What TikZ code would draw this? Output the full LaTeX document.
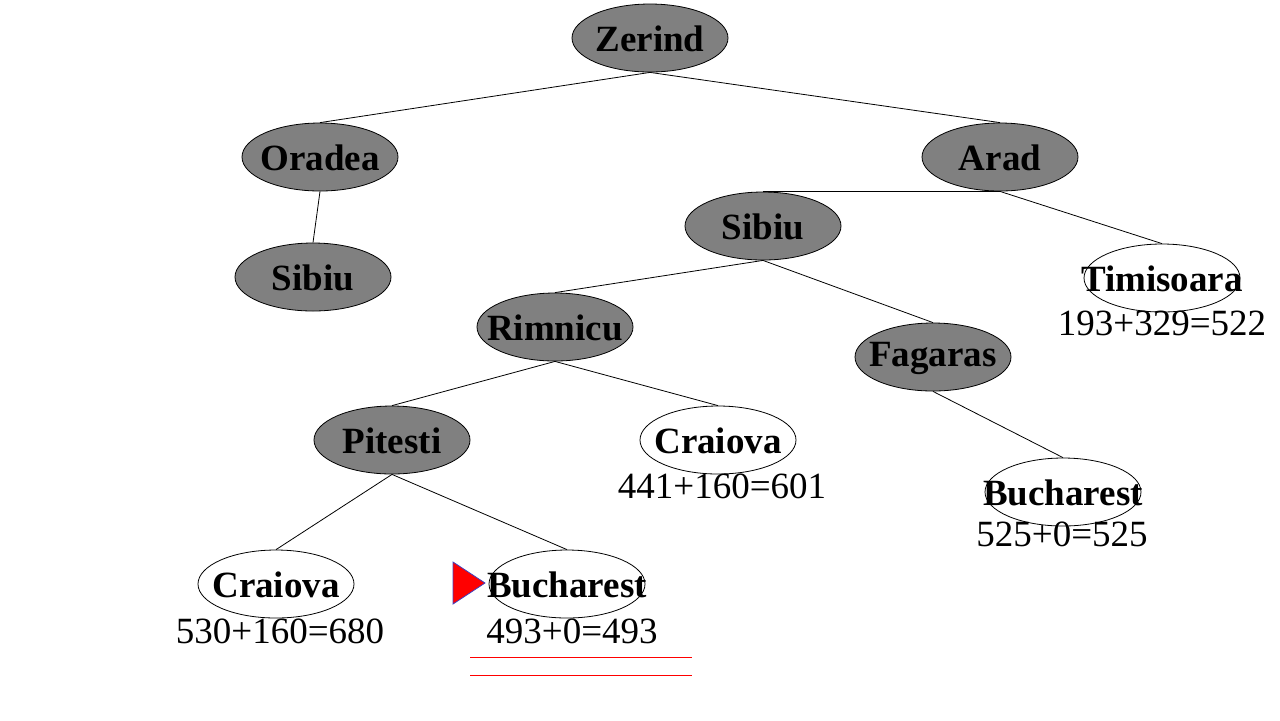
\documentclass[tikz,border=0pt]{standalone}
\usepackage{fontspec}
\setmainfont{Liberation Serif}
\usetikzlibrary{shapes,positioning}

\begin{document}
\begin{tikzpicture}[x=0.5pt,y=-0.5pt,
    city/.style={ellipse,draw,fill=gray,minimum width=78pt,minimum height=34pt,inner sep=0pt,
        label={[font=\fontsize{18.5}{20}\selectfont\bfseries,inner sep=0pt,yshift=-0.5pt]center:#1}},
    leaf/.style={city=#1,fill=white},
    score/.style={font=\fontsize{18.5}{20}\selectfont,inner sep=0pt}]
    \useasboundingbox (0,0) rectangle (1280,720);
    % expanded nodes
    \node[city=Zerind] (zer) at (650,38) {};
    \node[city=Oradea] (ora) at (320,157) {};
    \node[city=Arad] (ara) at (1000,157) {};
    \node[city=Sibiu] (sib1) at (313,277) {};
    \node[city=Sibiu] (sib2) at (763,226) {};
    \node[city=Rimnicu] (rim) at (555,327) {};
    \node[city=Fagaras] (fag) at (933,357) {};
    \node[city=Pitesti] (pit) at (392,440) {};
    % fringe
    \node[leaf=Timisoara] (tim) at (1162,278) {};
    \node[leaf=Craiova] (cra1) at (718,440) {};
    \node[leaf=Bucharest] (buc1) at (1063,492) {};
    \node[leaf=Craiova] (cra2) at (276,584) {};
    \node[leaf=Bucharest] (buc2) at (567,584) {};
    \node[score] (timf) at (1162,323) {193+329=522};
    \node[score] (cra1f) at (722,486) {441+160=601};
    \node[score] (buc1f) at (1062,534) {525+0=525};
    \node[score] (cra2f) at (280,631) {530+160=680};
    \node[score] (buc2f) at (572,631) {493+0=493};
    % edges
    \draw (zer.south) -- (ora.north);
    \draw (zer.south) -- (ara.north);
    \draw (ora.south) -- (sib1.north);
    \draw (ara.south) -- (sib2.north);
    \draw (ara.south) -- (tim.north);
    \draw (sib2.south) -- (rim.north);
    \draw (sib2.south) -- (fag.north);
    \draw (rim.south) -- (pit.north);
    \draw (rim.south) -- (cra1.north);
    \draw (fag.south) -- (buc1.north);
    \draw (pit.south) -- (cra2.north);
    \draw (pit.south) -- (buc2.north);
    % goal marker
    \draw[fill=red,draw=blue!50!gray] (453,562) -- (453,604) -- (485,583) -- cycle;
    \draw[red] (470,657) -- (692,657);
    \draw[red] (470,675) -- (692,675);
\end{tikzpicture}
\end{document}
